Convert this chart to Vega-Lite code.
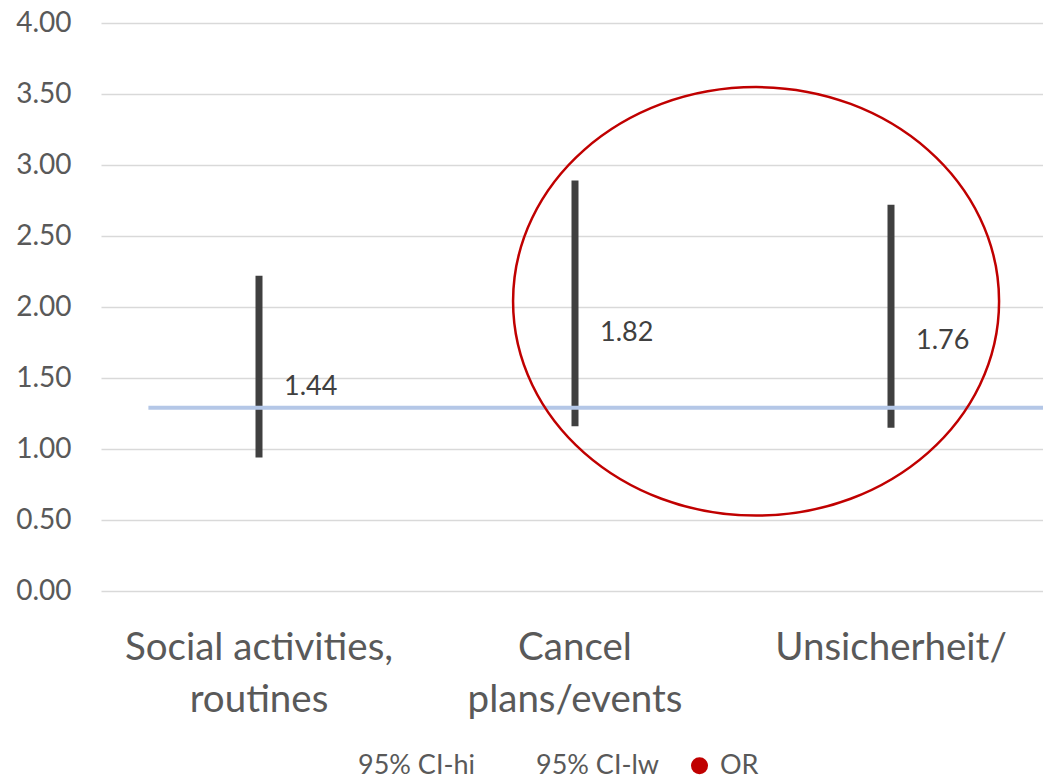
{
  "$schema": "https://vega.github.io/schema/vega-lite/v6.json",
  "autosize": {"type": "none"},
  "padding": {"left": 101, "top": 23, "right": 0, "bottom": 188},
  "width": 948,
  "height": 568,
  "background": "white",
  "config": {
    "view": {"stroke": null},
    "font": "Lato",
    "axis": {"labelFont": "Lato", "labelColor": "#595959"}
  },
  "data": {
    "values": [
      {"category": "Social activities, routines", "95% CI-hi": 2.22, "95% CI-lw": 0.94, "OR": 1.44},
      {"category": "Cancel plans/events", "95% CI-hi": 2.89, "95% CI-lw": 1.16, "OR": 1.82},
      {"category": "Unsicherheit/", "95% CI-hi": 2.72, "95% CI-lw": 1.15, "OR": 1.76}
    ]
  },
  "encoding": {
    "x": {
      "field": "category",
      "type": "nominal",
      "sort": null,
      "scale": {"paddingInner": 0, "paddingOuter": 0},
      "axis": {
        "title": null,
        "domain": false,
        "ticks": false,
        "labelAngle": 0,
        "labelFontSize": 38.5,
        "labelBaseline": "alphabetic",
        "labelPadding": 68,
        "labelLineHeight": 52,
        "labelLimit": 0,
        "labelExpr": "datum.value == 'Social activities, routines' ? ['Social activities,', 'routines'] : datum.value == 'Cancel plans/events' ? ['Cancel', 'plans/events'] : datum.value"
      }
    }
  },
  "layer": [
    {
      "mark": {"type": "rule", "color": "#404040", "strokeWidth": 7},
      "encoding": {
        "y": {
          "field": "95% CI-lw",
          "type": "quantitative",
          "scale": {"domain": [0, 4], "nice": false},
          "axis": {
            "title": null,
            "values": [0, 0.5, 1, 1.5, 2, 2.5, 3, 3.5, 4],
            "format": ".2f",
            "domain": false,
            "ticks": false,
            "labelFontSize": 28,
            "labelPadding": 30,
            "gridColor": "#d9d9d9",
            "gridWidth": 1.5
          }
        },
        "y2": {"field": "95% CI-hi"}
      }
    },
    {
      "mark": {"type": "text", "align": "left", "baseline": "middle", "dx": 25, "fontSize": 27, "color": "#404040"},
      "encoding": {
        "y": {"field": "OR", "type": "quantitative"},
        "text": {"field": "OR", "type": "quantitative", "format": ".2f"}
      }
    },
    {
      "transform": [
        {"fold": ["95% CI-hi", "95% CI-lw", "OR"], "as": ["series", "value"]}
      ],
      "mark": {"type": "point", "filled": true, "opacity": 0, "size": 289},
      "encoding": {
        "y": {"field": "value", "type": "quantitative"},
        "color": {
          "field": "series",
          "type": "nominal",
          "scale": {"domain": ["95% CI-hi", "95% CI-lw", "OR"], "range": ["rgba(0,0,0,0)", "rgba(0,0,0,0)", "#c00000"]},
          "legend": {
            "title": null,
            "orient": "none",
            "direction": "horizontal",
            "legendX": 223,
            "legendY": 729,
            "symbolType": "circle",
            "symbolSize": 289,
            "symbolOpacity": 1,
            "symbolStrokeWidth": 0,
            "labelFont": "Lato",
            "labelFontSize": 27,
            "labelColor": "#595959",
            "labelOffset": 7,
            "columnPadding": 26
          }
        }
      }
    },
    {
      "data": {"values": [{"level": 1.29}]},
      "mark": {"type": "rule", "color": "#b4c7e7", "strokeWidth": 4},
      "encoding": {
        "x": {"datum": "Social activities, routines", "type": "nominal", "bandPosition": 0.15},
        "x2": {"value": "width"},
        "y": {"field": "level", "type": "quantitative"}
      }
    },
    {
      "data": {"values": [{"category": "Unsicherheit/", "centre": 2.04}]},
      "mark": {
        "type": "point",
        "filled": false,
        "color": "#c00000",
        "strokeWidth": 2.5,
        "opacity": 1,
        "size": 236196,
        "shape": "M 1 0 C 1 0.487 0.5523 0.8817 0 0.8817 C -0.5523 0.8817 -1 0.487 -1 0 C -1 -0.487 -0.5523 -0.8817 0 -0.8817 C 0.5523 -0.8817 1 -0.487 1 0 Z"
      },
      "encoding": {
        "x": {"field": "category", "type": "nominal", "bandPosition": 0.073},
        "y": {"field": "centre", "type": "quantitative"}
      }
    }
  ]
}
